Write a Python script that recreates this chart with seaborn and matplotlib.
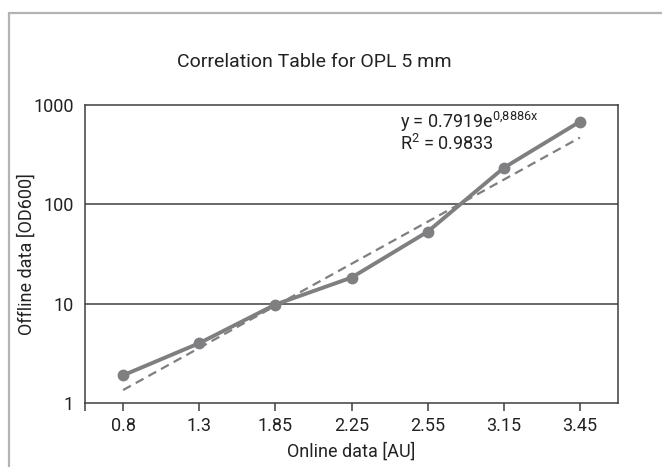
import numpy as np
import pandas as pd
import matplotlib
matplotlib.use("Agg")
import matplotlib.pyplot as plt
import seaborn as sns
from matplotlib.lines import Line2D

# ---- data ----
online_labels = ["0.8", "1.3", "1.85", "2.25", "2.55", "3.15", "3.45"]
offline_values = [1.9, 4.0, 9.8, 18.3, 53, 233, 680]
trend_labels = ["0.8", "3.45"]
trend_values = [1.35, 470]
title = "Correlation Table for OPL 5 mm"
eq_text = r"y = 0.7919e$^{\mathregular{0{,}8886x}}$"
r2_text = r"R$^{\mathregular{2}}$ = 0.9833"

FONT = "Roboto"
sns.set_theme(style="white")
plt.rcParams["font.family"] = [FONT, "DejaVu Sans"]
plt.rcParams["mathtext.fontset"] = "custom"
plt.rcParams["mathtext.rm"] = FONT
plt.rcParams["mathtext.it"] = FONT

pos = {lab: i for i, lab in enumerate(online_labels)}
df = pd.DataFrame({"x": [pos[l] for l in online_labels], "y": offline_values})
dft = pd.DataFrame({"x": [pos[l] for l in trend_labels], "y": trend_values})

fig = plt.figure(figsize=(6.62, 4.67), dpi=100)
ax = fig.add_axes([85/662, 1-403/467, (618-85)/662, (403-105)/467])

grey = "#7f7f81"
txt = "#222222"
ax.set_yscale("log")
sns.lineplot(data=dft, x="x", y="y", ax=ax, color=grey, lw=1.6,
             linestyle=(0, (4, 2.5)), zorder=3)
sns.lineplot(data=df, x="x", y="y", ax=ax, color=grey, lw=2.8,
             marker="o", markersize=8.5, markeredgewidth=0, zorder=4)

ax.set_ylim(1, 1000)
ax.set_xlim(-0.5, len(online_labels) - 0.5)
ax.set_xticks(range(len(online_labels)))
ax.set_xticklabels(online_labels)
ax.set_yticks([1, 10, 100, 1000])
ax.set_yticklabels(["1", "10", "100", "1000"])
ax.yaxis.set_minor_locator(matplotlib.ticker.NullLocator())
ax.set_xticks([-0.5], minor=True)

for v in [10, 100]:
    ax.axhline(v, color="#3f3f3f", lw=1.1, zorder=1)

for s in ax.spines.values():
    s.set_color("#3f3f3f")
    s.set_linewidth(1.1)

FS = 13
ax.tick_params(axis="x", which="both", direction="out", length=6, width=1.1,
               color="#3f3f3f", labelsize=FS, pad=4, bottom=True)
ax.tick_params(axis="y", which="both", length=0, labelsize=FS, pad=8)
for t in ax.get_xticklabels() + ax.get_yticklabels():
    t.set_color(txt)

ax.set_xlabel("Online data [AU]", fontsize=FS, color=txt)
ax.set_ylabel("Offline data [OD600]", fontsize=FS, color=txt)
ax.xaxis.set_label_coords(0.5, -(452 - 403) / (403 - 105))
ax.yaxis.set_label_coords(-(85 - 27) / (618 - 85), 0.5)
ax.xaxis.label.set_va("center")
ax.yaxis.label.set_va("center")

fig.text(177/662, 1-62/467, title, ha="left", va="center", fontsize=14,
         color=txt)
ax.text((400 - 85) / 533, (403 - 122) / 298, eq_text, transform=ax.transAxes,
        fontsize=FS, va="center", ha="left", color=txt)
ax.text((400 - 85) / 533, (403 - 144) / 298, r2_text, transform=ax.transAxes,
        fontsize=FS, va="center", ha="left", color=txt)

# outer frame
fx = 8.5/662
fy = 1 - 12.5/467
fig.add_artist(Line2D([fx, fx], [0, fy], transform=fig.transFigure,
                      color="#b3b3b3", lw=1.6))
fig.add_artist(Line2D([fx, 1], [fy, fy], transform=fig.transFigure,
                      color="#b3b3b3", lw=1.6))

fig.savefig("out.png", dpi=100)
